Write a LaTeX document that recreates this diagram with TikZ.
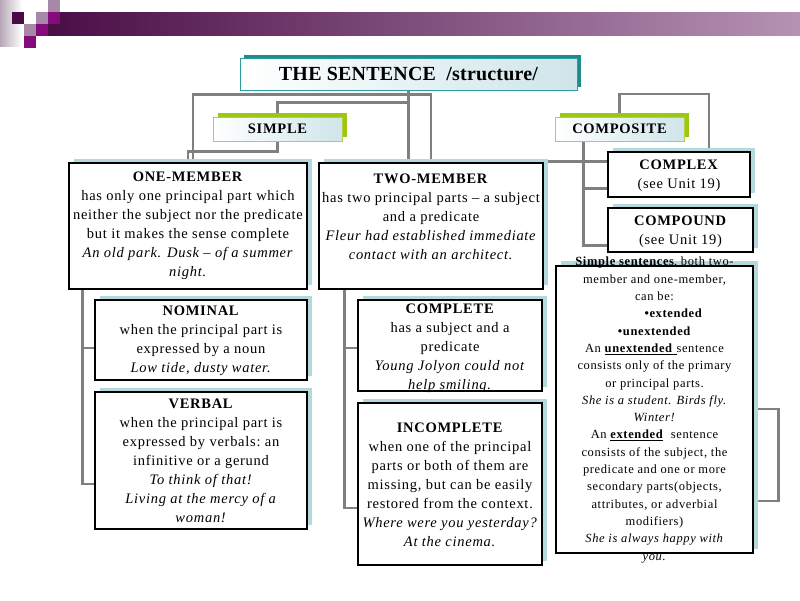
\documentclass[tikz,border=0pt]{standalone}
\usepackage{fontspec}
\setmainfont{Liberation Serif}[LetterSpace=5]
\usetikzlibrary{shadows,calc}
\definecolor{linkgray}{HTML}{808080}
\definecolor{shblue}{HTML}{B5D8DC}
\definecolor{tealdark}{HTML}{1E8C8C}
\definecolor{tealline}{HTML}{2A9D9D}
\definecolor{limedark}{HTML}{9CC812}
\definecolor{limeline}{HTML}{B4D040}
\definecolor{paleblue}{HTML}{CFE5EA}
\definecolor{barL}{HTML}{4A0E46}
\definecolor{barR}{HTML}{B592B4}
\definecolor{sqdark}{HTML}{4A0A48}
\definecolor{sqmauve}{HTML}{A888A8}
\definecolor{sqmag}{HTML}{850A7C}
\definecolor{stripL}{HTML}{B8A8B8}
\pgfdeclarelayer{background}
\pgfsetlayers{background,main}
\begin{document}
\begin{tikzpicture}[x=1pt,y=-1pt,
  box/.style={draw=black, line width=1.1pt, fill=white, inner sep=0pt,
     general shadow={fill=shblue, shadow xshift=4.5pt, shadow yshift=4pt}},
  headbox/.style={draw=limeline, line width=0.8pt, left color=white, right color=paleblue,
     inner sep=0pt, minimum width=129pt, minimum height=24pt,
     general shadow={fill=limedark, shadow xshift=5pt, shadow yshift=4pt},
     font=\fontsize{14.5}{17}\selectfont\bfseries},
  txt/.style={align=center, font=\fontsize{14.5}{19}\selectfont, inner sep=0pt},
  rtxt/.style={align=center, font=\fontsize{12.5}{17.3}\selectfont, inner sep=0pt},
  link/.style={draw=linkgray, line width=2.2pt}
]
\useasboundingbox (0,0) rectangle (800,600);
% top decoration
\shade[left color=stripL, right color=white] (0,0) rectangle (22,46);
\shade[left color=barL, right color=barR] (48,12) rectangle (800,35);
\fill[sqdark] (12,12) rectangle (24,24);
\fill[white] (24,12) rectangle (36,24);
\fill[sqmauve] (36,12) rectangle (48,24);
\fill[sqmag] (48,12) rectangle (60,24);
\fill[sqmauve] (48,0) rectangle (60,12);
\fill[sqmauve] (24,24) rectangle (36,36);
\fill[sqmag] (36,24) rectangle (48,36);
\fill[sqmag] (24,36) rectangle (36,48);

% title and heads
\node[draw=tealline, line width=0.8pt, left color=white, right color=paleblue,
      minimum width=337pt, minimum height=32pt, inner sep=0pt,
      general shadow={fill=tealdark, shadow xshift=3.5pt, shadow yshift=3pt},
      font=\fontsize{20}{24}\selectfont\bfseries\addfontfeature{LetterSpace=1}]
      (title) at (408.5,74) {THE SENTENCE\ \ /structure/};
\node[headbox] (simple) at (277.5,129) {SIMPLE};
\node[headbox] (composite) at (619.5,129) {COMPOSITE};

% boxes
\node[box, minimum width=238pt, minimum height=126pt] (one) at (188,226) {};
\node[box, minimum width=224pt, minimum height=126pt] (two) at (431,226) {};
\node[box, minimum width=142pt, minimum height=45pt] (complex) at (679,174.5) {};
\node[box, minimum width=145pt, minimum height=44pt] (compound) at (680.5,230) {};
\node[box, minimum width=212pt, minimum height=80pt] (nominal) at (201,340) {};
\node[box, minimum width=212pt, minimum height=137pt] (verbal) at (201,460.5) {};
\node[box, minimum width=184pt, minimum height=91pt] (complete) at (450,345.5) {};
\node[box, minimum width=184pt, minimum height=162pt] (incomplete) at (450,484) {};
\node[box, minimum width=197pt, minimum height=287pt,
      general shadow={fill=shblue, shadow xshift=5pt, shadow yshift=5pt}] (rightbox) at (654.5,409.5) {};

% texts
\node[txt] (oneT) at (188,226) {\textbf{ONE-MEMBER}\\
  has only one principal part which\\
  neither the subject nor the predicate\\
  but it makes the sense complete\\
  \textit{An old park. Dusk – of a summer}\\
  \textit{night.}};
\node[txt] (twoT) at (431,217) {\textbf{TWO-MEMBER}\\
  has two principal parts – a subject\\
  and a predicate\\
  \textit{Fleur had established immediate}\\
  \textit{contact with an architect.}};
\node[txt] (complexT) at (679,175.5) {\textbf{COMPLEX}\\(see Unit 19)};
\node[txt] (compoundT) at (680.5,231.5) {\textbf{COMPOUND}\\(see Unit 19)};
\node[txt] (nominalT) at (201,341) {\textbf{NOMINAL}\\
  when the principal part is\\
  expressed by a noun\\
  \textit{Low tide, dusty water.}};
\node[txt] (verbalT) at (201,461) {\textbf{VERBAL}\\
  when the principal part is\\
  expressed by verbals:\ an\\
  infinitive or a gerund\\
  \textit{To think of that!}\\
  \textit{Living at the mercy of a}\\
  \textit{woman!}};
\node[txt] (completeT) at (450,348) {\textbf{COMPLETE}\\
  has a subject and a\\
  predicate\\
  \textit{Young Jolyon could not}\\
  \textit{help smiling.}};
\node[txt] (incompleteT) at (450,484.5) {\textbf{INCOMPLETE}\\
  when one of the principal\\
  parts or both of them are\\
  missing, but can be easily\\
  restored from the context.\\
  \textit{Where were you yesterday?}\\
  \textit{At the cinema.}};
\node[rtxt] (rightT) at (654.5,410) {\textbf{Simple sentences}, both two-\\
  member and one-member,\\
  can be:\\
  \hspace*{38pt}\textbf{•extended}\\
  \textbf{•unextended}\\
  An \underline{\textbf{unextended}\ }sentence\\
  consists only of the primary\\
  or principal parts.\\
  \textit{She is a student. Birds fly.}\\
  \textit{Winter!}\\
  An \underline{\textbf{extended}}\ \ sentence\\
  consists of the subject, the\\
  predicate and one or more\\
  secondary parts(objects,\\
  attributes, or adverbial\\
  modifiers)\\
  \textit{She is always happy with}\\
  \textit{you.}};

% connectors
\coordinate (t1) at ($(two.north east)+(0,-1)$);
\coordinate (b1) at ($(one.south west)+(14,0)$);
\coordinate (b2) at ($(two.south west)+(26,0)$);
\coordinate (n1) at ($(nominal.west)+(0,8)$);
\coordinate (n2) at ($(complete.west)+(0,2.5)$);
\coordinate (c1) at ($(complex.south west)+(0,-9)$);
\coordinate (r1) at ($(rightbox.east)+(0,-0.5)$);
\begin{pgfonlayer}{background}
\draw[link] (title.south) -- (title.south |- two.north);
\draw[link] ($(title.south)+(0,12)$) -| (simple.north);
\draw[link] (simple.south) -- ++(0,10) -| (one.north);
\draw[link] ($(one.north)+(5,0)$) -- ++(0,-68) -| (two.north);
\draw[link] (composite.north) -- ++(0,-23) -| ($(complex.north)+(30,0)$);
\draw[link] ($(composite.south)+(-36,0)$) |- ($(compound.south west)+(0,-7)$);
\draw[link] (c1) -- ++(-25,0);
\draw[link] (t1) -- (t1 -| complex.west);
\draw[link] (b1) |- ($(verbal.west)+(0,23.5)$);
\draw[link] (n1) -- (n1 -| b1);
\draw[link] (b2) |- ($(incomplete.west)+(0,24)$);
\draw[link] (n2) -- (n2 -| b2);
\draw[link] (r1) -- ++(25,0) |- ($(rightbox.east)+(0,91.5)$);
\end{pgfonlayer}
\end{tikzpicture}
\end{document}
